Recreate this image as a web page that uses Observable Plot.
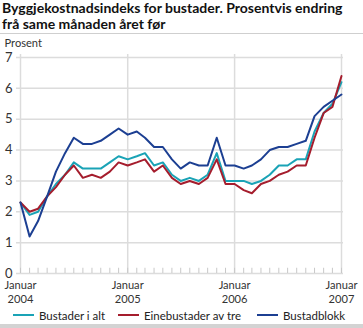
<!DOCTYPE html>
<html>
<head>
<meta charset="utf-8">
<script src="https://cdn.jsdelivr.net/npm/d3@7"></script>
<script src="https://cdn.jsdelivr.net/npm/@observablehq/plot@0.6"></script>
<style>
  html, body { margin: 0; padding: 0; background: #fff; }
  body { width: 363px; height: 328px; overflow: hidden; font-family: Lato, "Open Sans", sans-serif; color: #222; position: relative; }
  #title { position: absolute; left: 2px; top: 0; font-weight: bold; line-height: 15.5px; color: #111; white-space: nowrap; }
  #sep { position: absolute; left: 0; top: 33px; width: 363px; height: 1px; background: #cfcfcf; }
  #chart { position: absolute; left: 0; top: 36px; }
  #legend { position: absolute; left: 0; top: 307px; width: 363px; height: 16px; color: #222; white-space: nowrap; }
  .item { position: absolute; top: 0; height: 16px; display: flex; align-items: center; }
  .sw { width: 21px; height: 2px; margin-right: 5px; flex-shrink: 0; }
  #bottom { position: absolute; left: 0; top: 324px; width: 363px; height: 4px; background: #d3d3d3; }
</style>
</head>
<body>
<div id="title"><span id="t1">Byggjekostnadsindeks for bustader. Prosentvis endring</span><br><span id="t2">frå same månaden året før</span></div>
<div id="sep"></div>
<div id="chart"></div>
<div id="legend"></div>
<div id="bottom"></div>
<script>
const seriesNames = ["Bustader i alt", "Einebustader av tre", "Bustadblokk"];
const seriesColors = ["#1aa3b6", "#a51d2d", "#1c3f92"];
const bustaderIAlt = [2.3,1.9,2.0,2.5,2.9,3.2,3.6,3.4,3.4,3.4,3.6,3.8,3.7,3.8,3.9,3.5,3.6,3.2,3.0,3.1,3.0,3.2,3.9,3.0,3.0,3.0,2.9,3.0,3.2,3.5,3.5,3.7,3.7,4.6,5.2,5.5,6.2];
const einebustaderAvTre = [2.3,2.0,2.1,2.5,2.8,3.2,3.5,3.1,3.2,3.1,3.3,3.6,3.5,3.6,3.7,3.3,3.5,3.1,2.9,3.0,2.9,3.1,3.7,2.9,2.9,2.7,2.6,2.9,3.0,3.2,3.3,3.5,3.5,4.4,5.2,5.4,6.4];
const bustadblokk = [2.3,1.2,1.7,2.5,3.3,3.9,4.4,4.2,4.2,4.3,4.5,4.7,4.5,4.6,4.4,4.1,4.1,3.7,3.4,3.6,3.5,3.5,4.4,3.5,3.5,3.4,3.5,3.7,4.0,4.1,4.1,4.2,4.3,5.1,5.4,5.6,5.8];
const yTicks = [0,1,2,3,4,5,6,7];
const yearLabels = ["2004","2005","2006","2007"];
const monthLabel = "Januar";

const font = "Lato, 'Open Sans', sans-serif";
const ctx = document.createElement("canvas").getContext("2d");
function fit(text, weight, target) {
  ctx.font = weight + " 100px " + font;
  return 100 * target / ctx.measureText(text).width;
}
const titleSize = Math.min(fit(document.getElementById("t1").textContent, "bold", 341), 16);
document.getElementById("title").style.fontSize = titleSize + "px";
const legendSize = Math.min(fit(seriesNames.join(""), "normal", 66 + 98 + 62), 13);
const xSize = Math.min(fit(monthLabel, "normal", 32), 13);

const months = d3.utcMonth.range(new Date(Date.UTC(2004,0,1)), new Date(Date.UTC(2007,0,2)));
const years = yearLabels.map(y => new Date(Date.UTC(+y,0,1)));
const allSeries = [bustaderIAlt, einebustaderAvTre, bustadblokk];
const data = [];
allSeries.forEach((vals, s) => vals.forEach((v, i) => data.push({date: months[i], value: v, series: seriesNames[s]})));

const chart = Plot.plot({
  width: 363,
  height: 270,
  marginTop: 21,
  marginBottom: 33,
  marginLeft: 20,
  marginRight: 22,
  style: {fontFamily: font, fontSize: "12px", color: "#333", background: "transparent", overflow: "visible"},
  x: {type: "utc", domain: [years[0], years[years.length - 1]]},
  y: {domain: [0, 7]},
  color: {domain: seriesNames, range: seriesColors},
  marks: [
    Plot.ruleY(yTicks, {stroke: "#dcdcdc", strokeWidth: 1.5, insetLeft: -4, insetRight: -2}),
    Plot.ruleX(years, {stroke: "#dcdcdc", strokeWidth: 1.5, insetTop: -3}),
    Plot.ruleX(months, {y1: 0, y2: 0.17, stroke: "#c8c8c8", strokeWidth: 1}),
    Plot.lineY(data, {x: "date", y: "value", stroke: "series", z: "series", strokeWidth: 2}),
    Plot.axisY({ticks: yTicks, tickSize: 0, tickPadding: 8, label: null, fontSize: 13, fill: "#333", tickFormat: d => String(d)}),
    Plot.axisX({ticks: years, tickSize: 0, tickPadding: 6, label: null, fontSize: xSize, lineHeight: 1.25, fill: "#333",
      tickFormat: d => monthLabel + "\n" + d.getUTCFullYear()}),
    Plot.text(["Prosent"], {frameAnchor: "top-left", dx: -16, dy: -14, textAnchor: "start", lineAnchor: "middle", fontSize: xSize, fill: "#333"})
  ]
});
document.getElementById("chart").appendChild(chart);

const legendX = [13, 118, 257];
const legend = document.getElementById("legend");
legend.style.fontSize = legendSize + "px";
seriesNames.forEach((name, i) => {
  const item = document.createElement("div");
  item.className = "item";
  item.style.left = legendX[i] + "px";
  const sw = document.createElement("span");
  sw.className = "sw";
  sw.style.background = seriesColors[i];
  const t = document.createElement("span");
  t.textContent = name;
  item.appendChild(sw); item.appendChild(t);
  legend.appendChild(item);
});
</script>
</body>
</html>
